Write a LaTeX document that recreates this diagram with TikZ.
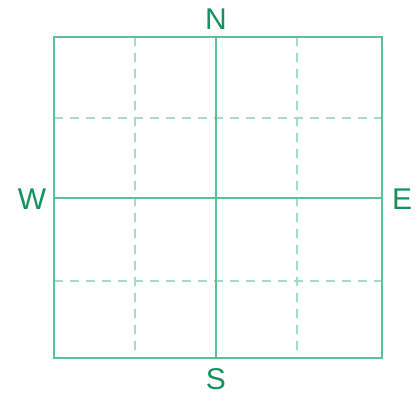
\documentclass[tikz,border=0pt]{standalone}
\usepackage{fontspec}
\setmainfont{Liberation Sans}
\definecolor{linegreen}{HTML}{5BC296}
\definecolor{dashgreen}{HTML}{A3DCC2}
\definecolor{textgreen}{HTML}{15905E}
\begin{document}
\begin{tikzpicture}[x=1pt,y=1pt,
  frame/.style={draw=linegreen,line width=1.6pt},
  solidline/.style={draw=linegreen,line width=1.6pt},
  dashline/.style={draw=dashgreen,line width=1.4pt,dash pattern=on 9pt off 7pt},
  label/.style={text=textgreen,font=\fontsize{30}{30}\selectfont,inner sep=0pt}]
\useasboundingbox (0,0) rectangle (419,397);
% square corners (y flipped: 397 - y_img)
\coordinate (bl) at (54,39);
\coordinate (tr) at (382,360);
% grid helper coordinates
\coordinate (t1) at (135,360); \coordinate (b1) at (135,39);
\coordinate (t3) at (297,360); \coordinate (b3) at (297,39);
\coordinate (l1) at (54,279);  \coordinate (r1) at (382,279);
\coordinate (l3) at (54,116);  \coordinate (r3) at (382,116);
\coordinate (tc) at (216,360); \coordinate (bc) at (216,39);
\coordinate (lc) at (54,199);  \coordinate (rc) at (382,199);
\draw[dashline] (t1) -- (b1);
\draw[dashline] (t3) -- (b3);
\draw[dashline] (l1) -- (r1);
\draw[dashline] (l3) -- (r3);
\draw[solidline] (tc) -- (bc);
\draw[solidline] (lc) -- (rc);
\draw[frame] (bl) rectangle (tr);
\node[label] (N) at (216,378) {N};
\node[label] (S) at (216,18) {S};
\node[label] (W) at (32,198) {W};
\node[label] (E) at (402,198) {E};
\end{tikzpicture}
\end{document}
